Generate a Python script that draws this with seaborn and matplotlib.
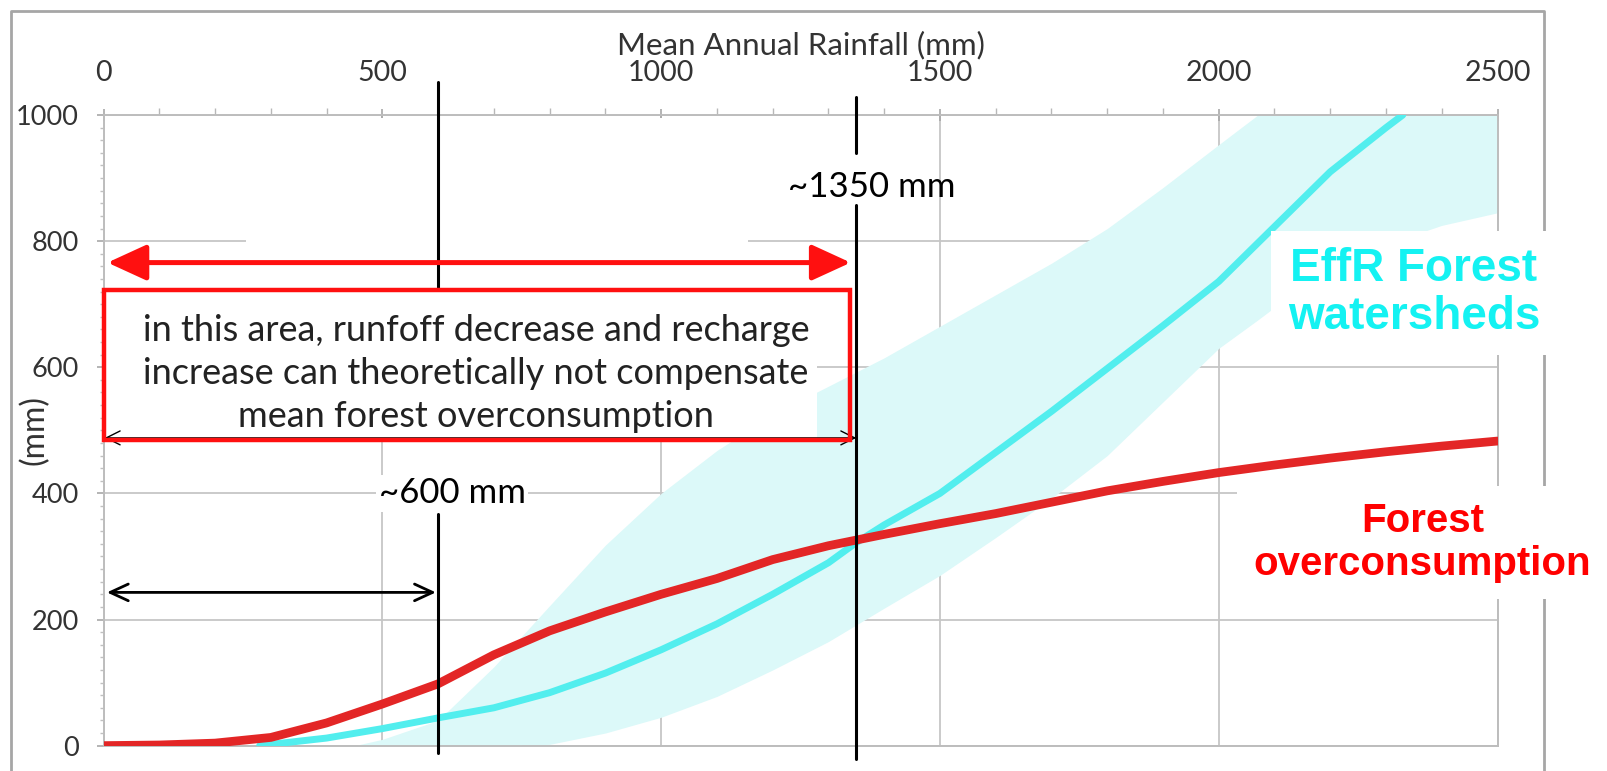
import numpy as np
import pandas as pd
import matplotlib
matplotlib.use("Agg")
import matplotlib.pyplot as plt
from matplotlib.patches import Rectangle
from matplotlib.ticker import MultipleLocator
import seaborn as sns

# values
rain = [0, 100, 200, 300, 400, 500, 600, 700, 800, 900, 1000, 1100, 1200, 1300,
        1350, 1400, 1500, 1600, 1700, 1800, 1900, 2000, 2100, 2200, 2300, 2400, 2500]
overconsumption = [0, 1, 4, 13, 36, 66, 98, 144, 182, 212, 240, 265, 295, 317,
                   326, 335, 352, 368, 386, 404, 419, 433, 445, 456, 466, 475, 483]

effr_rain = [280, 400, 500, 600, 700, 800, 900, 1000, 1100, 1200, 1300, 1350,
             1400, 1500, 1600, 1700, 1800, 1900, 2000, 2100, 2200, 2300, 2330]
effr = [0, 12, 27, 44, 60, 84, 115, 152, 193, 240, 290, 322,
        350, 400, 465, 530, 598, 666, 736, 823, 910, 980, 1000]

band_rain = [450, 500, 600, 700, 800, 900, 1000, 1100, 1200, 1300, 1400, 1500,
             1600, 1700, 1800, 1900, 2000, 2070, 2100, 2200, 2300, 2400, 2500]
band_high = [0, 10, 40, 125, 222, 318, 400, 468, 525, 570, 615, 665,
             715, 765, 820, 885, 953, 1000, 1000, 1000, 1000, 1000, 1000]
band_low = [0, 0, 0, 0, 2, 20, 45, 78, 120, 165, 218, 270,
            330, 392, 460, 545, 630, 675, 695, 752, 795, 825, 845]

x_ticks = [0, 500, 1000, 1500, 2000, 2500]
y_ticks = [0, 200, 400, 600, 800, 1000]
thresholds = [600, 1350]
threshold_labels = ["~600 mm", "~1350 mm"]
box_text = ("in this area, runfoff decrease and recharge\n"
            "increase can theoretically not compensate\n"
            "mean forest overconsumption")

RED = "#e32626"
CYAN_LINE = "#52eeee"
CYAN_TEXT = "#14f2f2"
BAND = "#dcf9f9"
GRID = "#c6c6c6"
TXT = "#333333"

sns.set_style("white")
plt.rcParams["font.family"] = ["Lato", "DejaVu Sans"]

df_red = pd.DataFrame({"rain": rain, "value": overconsumption})
df_cyan = pd.DataFrame({"rain": effr_rain, "value": effr})

fig = plt.figure(figsize=(16.08, 7.71), dpi=100)
ax = fig.add_axes([0.0644, 0.0329, 0.8669, 0.8179])

ax.fill_between(band_rain, band_low, band_high, color=BAND, lw=0, zorder=1)

# white backgrounds of the annotation shapes
ax.add_patch(Rectangle((255, 722), 900, 273, facecolor="white", lw=0, zorder=1.5))
ax.add_patch(Rectangle((0, 485), 1280, 237, facecolor="white", lw=0, zorder=1.5))

sns.lineplot(data=df_cyan, x="rain", y="value", ax=ax, color=CYAN_LINE,
             linewidth=5, zorder=3)
sns.lineplot(data=df_red, x="rain", y="value", ax=ax, color=RED,
             linewidth=6.3, zorder=4)

# threshold lines (broken where the labels sit)
ax.plot([thresholds[0]] * 2, [1052, 722], color="black", lw=2.2, clip_on=False, zorder=5)
ax.plot([thresholds[0]] * 2, [368, -12], color="black", lw=2.2, clip_on=False, zorder=5)
ax.plot([thresholds[1]] * 2, [1028, 940], color="black", lw=2.2, clip_on=False, zorder=5)
ax.plot([thresholds[1]] * 2, [857, -21], color="black", lw=2.2, clip_on=False, zorder=5)

ax.text(625, 400, threshold_labels[0], fontsize=25, ha="center", va="center",
        color="black", zorder=6,
        bbox=dict(facecolor="white", edgecolor="none", pad=2))
ax.text(1378, 886, threshold_labels[1], fontsize=25, ha="center", va="center",
        color="black", zorder=6)

# red double arrow and the red box
ax.annotate("", xy=(1340, 766), xytext=(7, 766),
            arrowprops=dict(arrowstyle="<|-|>,head_length=1.2,head_width=0.55",
                            color="#ff1010", lw=3.6, mutation_scale=20,
                            shrinkA=0, shrinkB=0), zorder=6)
ax.annotate("", xy=(1350, 488), xytext=(2, 488),
            arrowprops=dict(arrowstyle="<->,head_length=0.5,head_width=0.25",
                            color="black", lw=1, mutation_scale=20,
                            shrinkA=0, shrinkB=0), zorder=6)
ax.add_patch(Rectangle((0, 485), 1339, 237, facecolor="none", edgecolor="#ff1010",
                       lw=3.2, zorder=7, clip_on=False))
ax.text(668, 590, box_text, fontsize=26, ha="center", va="center",
        color="#222222", linespacing=1.38, zorder=8)

# black double arrow up to 600 mm
ax.annotate("", xy=(thresholds[0] - 4, 243), xytext=(6, 243),
            arrowprops=dict(arrowstyle="<->,head_length=0.65,head_width=0.3",
                            color="black", lw=2, mutation_scale=20,
                            shrinkA=0, shrinkB=0), zorder=6)

# series labels on the right
ax.text(2350, 718, "EffR Forest\nwatersheds", fontsize=33, fontweight="bold",
        family="Liberation Sans", color=CYAN_TEXT, ha="center", va="center",
        linespacing=1.1, clip_on=False, zorder=10,
        bbox=dict(facecolor="white", edgecolor="none", pad=12))
ax.text(2365, 322, "Forest\noverconsumption", fontsize=29, fontweight="bold",
        family="Liberation Sans", color="#ff0000", ha="center", va="center",
        linespacing=1.15, clip_on=False, zorder=10,
        bbox=dict(facecolor="white", edgecolor="none", pad=12))

# axes
ax.set_xlim(0, 2500)
ax.set_ylim(0, 1000)
ax.xaxis.tick_top()
ax.xaxis.set_label_position("top")
ax.set_xticks(x_ticks)
ax.set_yticks(y_ticks)
ax.xaxis.set_minor_locator(MultipleLocator(100))
ax.yaxis.set_minor_locator(MultipleLocator(20))
ax.tick_params(axis="x", which="major", direction="inout", length=8, width=1.2,
               color="#a8a8a8", pad=17, labelsize=20.5, labelcolor=TXT, top=True, bottom=False)
ax.tick_params(axis="x", which="minor", direction="out", length=5, width=1,
               color="#b8b8b8", top=True, bottom=False)
ax.tick_params(axis="y", which="major", direction="out", length=5, width=1.2,
               color="#a8a8a8", pad=13, labelsize=19.5, labelcolor=TXT, left=True)
ax.tick_params(axis="y", which="minor", direction="out", length=3, width=1,
               color="#c0c0c0", left=True)
ax.set_xlabel("Mean Annual Rainfall (mm)", fontsize=22.5, color=TXT, labelpad=4)
ax.set_ylabel("(mm)", fontsize=23, color=TXT)
ax.yaxis.set_label_coords(-0.039, 0.5)
ax.grid(True, which="major", color=GRID, lw=1.3, zorder=0)
ax.set_axisbelow(True)
for s in ax.spines.values():
    s.set_color("#bdbdbd")
    s.set_linewidth(1.4)

# outer frame of the original figure (bottom edge cut off)
ax.plot([0.0068, 0.0068, 0.9602, 0.9602], [0.0, 0.986, 0.986, 0.0],
        transform=fig.transFigure, color="#a6a6a6", lw=2, clip_on=False, zorder=1)

fig.savefig("out.png", dpi=100)
